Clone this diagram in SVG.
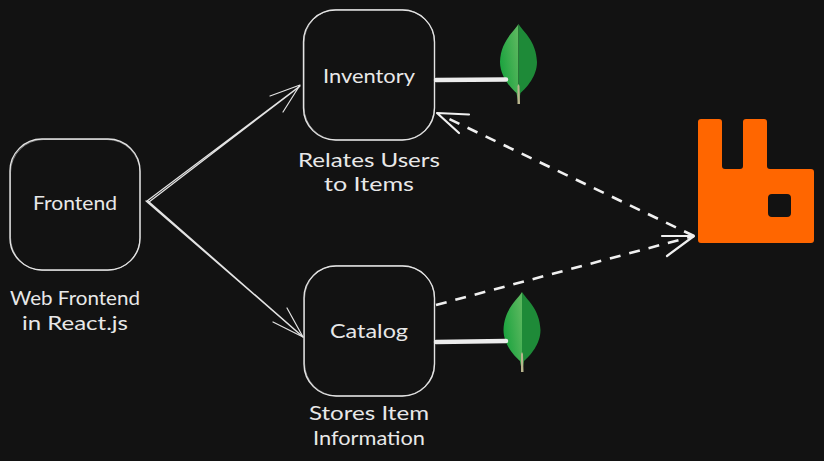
<svg xmlns="http://www.w3.org/2000/svg" width="824" height="461" viewBox="0 0 824 461">
<style>
.box{fill:none;stroke:#e3e3e3;stroke-width:1.4}
.box2{fill:none;stroke:#e3e3e3;stroke-width:0.7;opacity:.7}
.t{font-family:"Lato","Noto Sans",sans-serif;font-size:19px;fill:#e8e8e8;text-anchor:middle}
.c{fill:none;stroke:#e3e3e3;stroke-linecap:round;stroke-linejoin:round}
.thin{stroke-width:1.2}
.dash{stroke:#f0f0f0;stroke-width:2.6;stroke-dasharray:11 9;stroke-linecap:butt}
.head{stroke:#f0f0f0;stroke-width:2.2}
.thick{stroke:#ececec;stroke-width:4.5;stroke-linecap:round}
</style>
<defs>
<linearGradient id="leafL" x1="0" y1="0.8" x2="1" y2="0.2"><stop offset="0" stop-color="#12a03a"/><stop offset="1" stop-color="#5cb85f"/></linearGradient>
<g id="leaf">
<path d="M0 0C-4 7-18 17-18.500 38C-18.500 52-8 64-2 69L0 80Z" fill="url(#leafL)"/>
<path d="M0 0C4 7 18 17 18.500 38C18.500 52 8 64 2 69L0 80Z" fill="#1e8a38"/>
<path d="M-1 62L0 60L1 62L1.500 80H-1Z" fill="#b8b48c"/>
</g>
</defs>
<rect width="824" height="461" fill="#121212"/>
<g id="frontend">
<rect class="box" x="10" y="139" width="130" height="131" rx="32"/>
<rect class="box2" x="10.500" y="139.500" width="129.500" height="131" rx="33"/>
<text class="t" x="75" y="210" textLength="84" lengthAdjust="spacingAndGlyphs">Frontend</text>
<text class="t" x="75" y="305" textLength="130" lengthAdjust="spacingAndGlyphs">Web Frontend</text>
<text class="t" x="75" y="330" textLength="106" lengthAdjust="spacingAndGlyphs">in React.js</text>
</g>
<g id="inventory">
<rect class="box" x="303.500" y="10" width="131" height="130" rx="32"/>
<rect class="box2" x="304" y="9.500" width="130.500" height="130.500" rx="33"/>
<text class="t" x="369" y="83" textLength="92" lengthAdjust="spacingAndGlyphs">Inventory</text>
<text class="t" x="369" y="167" textLength="142" lengthAdjust="spacingAndGlyphs">Relates Users</text>
<text class="t" x="369" y="191" textLength="90" lengthAdjust="spacingAndGlyphs">to Items</text>
</g>
<g id="catalog">
<rect class="box" x="304" y="266" width="130.500" height="130" rx="32"/>
<rect class="box2" x="304.500" y="265.500" width="130" height="130.500" rx="33"/>
<text class="t" x="369" y="338" textLength="78" lengthAdjust="spacingAndGlyphs">Catalog</text>
<text class="t" x="369" y="420" textLength="120" lengthAdjust="spacingAndGlyphs">Stores Item</text>
<text class="t" x="369" y="445" textLength="112" lengthAdjust="spacingAndGlyphs">Information</text>
</g>
<g id="mongo-inventory"><use href="#leaf" x="518.500" y="24"/></g>
<g id="mongo-catalog"><use href="#leaf" x="522" y="292"/></g>
<g id="rabbitmq">
<path fill-rule="evenodd" fill="#ff6600" d="M701 119H719Q722 119 722 122V166Q722 169 725 169H740Q743 169 743 166V122Q743 119 746 119H764Q767 119 767 122V166Q767 169 770 169H811Q814 169 814 172V240Q814 243 811 243H701Q698 243 698 240V122Q698 119 701 119ZM772 194Q768 194 768 198V213Q768 217 772 217H787Q791 217 791 213V198Q791 194 787 194Z"/>
</g>
<g id="connectors">
<path class="c thin" d="M147 201L300 86M149 202L299 87"/>
<path class="c thin" d="M270 96L300 85L283 112"/>
<path class="c thin" d="M146 201L303 337M148 201L302 336"/>
<path class="c thin" d="M287 308L303 337L273 322"/>
<path class="c dash" d="M694 236L445 117"/>
<path class="c head" d="M469 114.500L437 113L459 133"/>
<path class="c dash" d="M436 305L694 236"/>
<path class="c head" d="M662 236L694 236L667 256"/>
<path class="c thick" d="M436 80L506 79.500"/>
<path class="c thick" d="M436 342L506 341"/>
</g>
</svg>
